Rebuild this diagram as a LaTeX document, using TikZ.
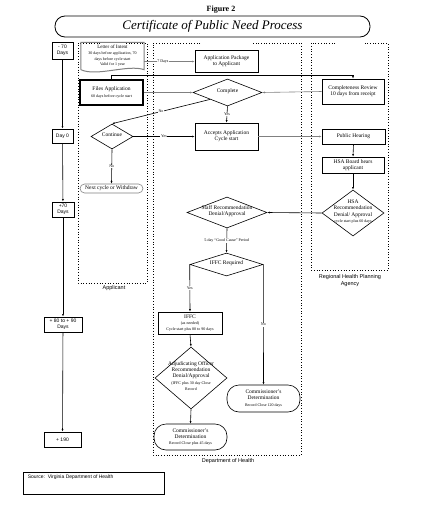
\documentclass[tikz,border=0pt]{standalone}
\usepackage{fontspec}
\setmainfont{Liberation Serif}
\setsansfont{Liberation Sans}
\usetikzlibrary{arrows.meta,shapes.geometric,positioning}
\newcommand{\flatbox}[1]{\makebox[0pt]{\smash{\begin{tabular}{@{}c@{}}#1\end{tabular}}}}
\newcommand{\smalltxt}{\fontsize{4}{4.6}\selectfont}

\begin{document}
\begin{tikzpicture}[x=1pt,y=-1pt,>={Latex[length=2.6pt,width=2pt]},
  box/.style={draw,line width=0.7pt,inner sep=0pt,align=center,font=\fontsize{5.5}{6.2}\selectfont},
  dec/.style={draw,diamond,line width=0.6pt,inner sep=0pt,font=\fontsize{5.5}{6.2}\selectfont},
  term/.style={draw,line width=0.6pt,inner sep=0pt,align=center,font=\fontsize{5.5}{6.2}\selectfont},
  tl/.style={draw,line width=0.8pt,inner sep=0pt,align=center,font=\sffamily\fontsize{5}{5.8}\selectfont},
  lane/.style={dotted,line width=0.7pt},
  lanelabel/.style={align=center,inner sep=0pt,font=\sffamily\fontsize{5.5}{6.3}\selectfont},
  link/.style={->,line width=0.6pt},
  glink/.style={draw=gray},
  tag/.style={fill=white,inner sep=0.6pt,font=\smalltxt}]
 \useasboundingbox (0,0) rectangle (441,514);
 \node[font=\bfseries\fontsize{8}{9}\selectfont] (fig) at (221,10) {Figure 2};
 \node[draw,rounded corners=10pt,line width=0.8pt,minimum width=315pt,minimum height=21pt,
   font=\itshape\fontsize{13}{15}\selectfont] (title) at (212.5,26.5) {Certificate of Public Need Process};

 \draw[lane] (100,43) -- (78,43) -- (78,283) -- (147,283) -- (147,43) -- (125,43);
 \draw[lane] (200,43) -- (153,43) -- (153,455) -- (301,455) -- (301,43) -- (253,43);
 \draw[lane] (335,43) -- (311,43) -- (311,270) -- (388,270) -- (388,43) -- (363,43);
 \node[lanelabel] (lapp) at (114,288.5) {Applicant};
 \node[lanelabel] (ldoh) at (228,461) {Department of Health};
 \node[lanelabel] (lrhpa) at (350,280.5) {Regional Health Planning\\Agency};

 \node[tl,minimum width=21pt,minimum height=17pt] (tA) at (62.5,50.5) {- 70\\Days};
 \node[tl,minimum width=21pt,minimum height=14pt] (tB) at (62.5,136) {Day 0};
 \node[tl,minimum width=22pt,minimum height=15pt] (tC) at (63,209.5) {+70\\Days};
 \node[tl,minimum width=38pt,minimum height=15pt] (tD) at (63,324.5) {+ 80 to + 90\\Days};
 \node[tl,minimum width=37pt,minimum height=15pt] (tE) at (62.5,439.5) {+ 190};
 \draw[link] (tA) -- (tB);
 \draw[link] (tB) -- (tC);
 \draw[link] (tC) -- (tD);
 \draw[link] (tD) -- (tE);

 \node[draw,line width=0.8pt,minimum width=141pt,minimum height=22pt] (src) at (93.5,483) {};
 \node[below right=3pt and 5pt of src.north west,inner sep=0pt,font=\sffamily\fontsize{5}{6}\selectfont] (srctxt) {Source:\ \ Virginia Department of Health};

 \node[inner sep=0pt,minimum width=63pt,minimum height=27pt,align=center,font=\fontsize{5}{5.6}\selectfont] (loi) at (112.5,56)
   {Letter of Intent\\{\smalltxt 30 days before application, 70}\\{\smalltxt days before cycle start}\\{\smalltxt Valid for 1 year}};
 \draw[gray,line width=1pt] (loi.south west) -- (loi.north west) -- (loi.north east) -- (loi.south east)
   .. controls (128,64) and (97,77) .. (loi.south west);
 \node[box,minimum width=63pt,minimum height=22pt] (pkg) at (226.5,61.5) {Application Package\\to Applicant};
 \node[box,line width=1.1pt,minimum width=63pt,minimum height=25pt] (files) at (111.5,92.5) {Files Application\\{\smalltxt 60 days before cycle start}};
 \node[dec,minimum width=69pt,minimum height=27pt] (complete) at (227.5,92.5) {\flatbox{Complete}};
 \node[box,minimum width=62pt,minimum height=25pt] (review) at (353,91.5) {Completeness Review\\10 days from receipt};
 \node[dec,minimum width=42pt,minimum height=25pt] (cont) at (112,136.5) {\flatbox{Continue}};
 \node[term,draw=gray,rounded corners=4.5pt,minimum width=63pt,minimum height=9pt] (next) at (111.5,188.5) {Next cycle or Withdraw};
 \node[box,minimum width=63pt,minimum height=27pt] (accepts) at (226.5,136.5) {Accepts Application\\Cycle start};
 \node[box,minimum width=63pt,minimum height=15pt] (hearing) at (353.5,136.5) {Public Hearing};
 \node[box,minimum width=62pt,minimum height=16pt] (board) at (353,165) {HSA Board hears\\applicant};
 \node[dec,minimum width=62pt,minimum height=46pt] (hsa) at (353,213)
   {\flatbox{HSA\\Recommendation\\Denial/ Approval\\{\smalltxt cycle start plus 60 days}}};
 \node[dec,minimum width=80pt,minimum height=31pt] (staff) at (227,212.5) {\flatbox{Staff Recommendation\\Denial/Approval}};
 \node[dec,minimum width=73pt,minimum height=23pt] (iffcreq) at (226.5,264.5) {\flatbox{IFFC Required}};
 \node[box,minimum width=64pt,minimum height=22pt] (iffc) at (190,323) {IFFC\\{\smalltxt (as needed)}\\{\smalltxt Cycle start plus 80 to 90 days}};
 \node[dec,minimum width=72pt,minimum height=62pt] (adj) at (191,378)
   {\flatbox{Adjudicating Officer\\Recommendation\\Denial/Approval\\{\smalltxt (IFFC plus 30 day Close}\\{\smalltxt Record}}};
 \node[term,rounded corners=12pt,minimum width=73pt,minimum height=26pt] (cdleft) at (190.5,437)
   {Commissioner's\\Determination\\{\smalltxt Record Close plus 45 days}};
 \node[term,rounded corners=12pt,minimum width=73pt,minimum height=27pt] (cdright) at (263.5,398.5)
   {Commissioner's\\Determination\\{\smalltxt Record Close 120 days}};

 \coordinate (rtop) at (review.north |- 0,75);
 \draw[link,glink] (loi.east |- pkg.west) -- node[tag,pos=0.37] {7 Days} (pkg.west);
 \draw[link] (files.north) |- (rtop) -- (review.north);
 \draw[link,glink] (files.east) -- (complete.west);
 \draw[link,glink] (review.west) -- (complete.east);
 \draw[link] (complete.south west) -- node[tag] {No} (cont.north);
 \draw[link] (complete.south) -- node[tag] {Yes} (accepts.north);
 \draw[link] (cont.east) -- node[tag] {Yes} (accepts.west);
 \draw[link] (cont.south) -- node[tag] {No} (next.north);
 \draw[link,glink] (accepts.east) -- (hearing.west);
 \draw[link] (hearing.south) -- (board.north);
 \draw[link] (board.south) -- (hsa.north);
 \draw[link] (hsa.west) -- (staff.east);
 \draw[link] (staff.south) -- node[tag] {5-day ``Good Cause'' Period} (iffcreq.north);
 \draw[link] (iffcreq.west) -- node[tag] {Yes} (iffc.north);
 \draw[link] (iffcreq.east) -- node[tag] {No} (cdright.north);
 \draw[link] (iffc.south) -- (adj.north);
 \draw[link] (adj.south) -- (cdleft.north);
\end{tikzpicture}
\end{document}
